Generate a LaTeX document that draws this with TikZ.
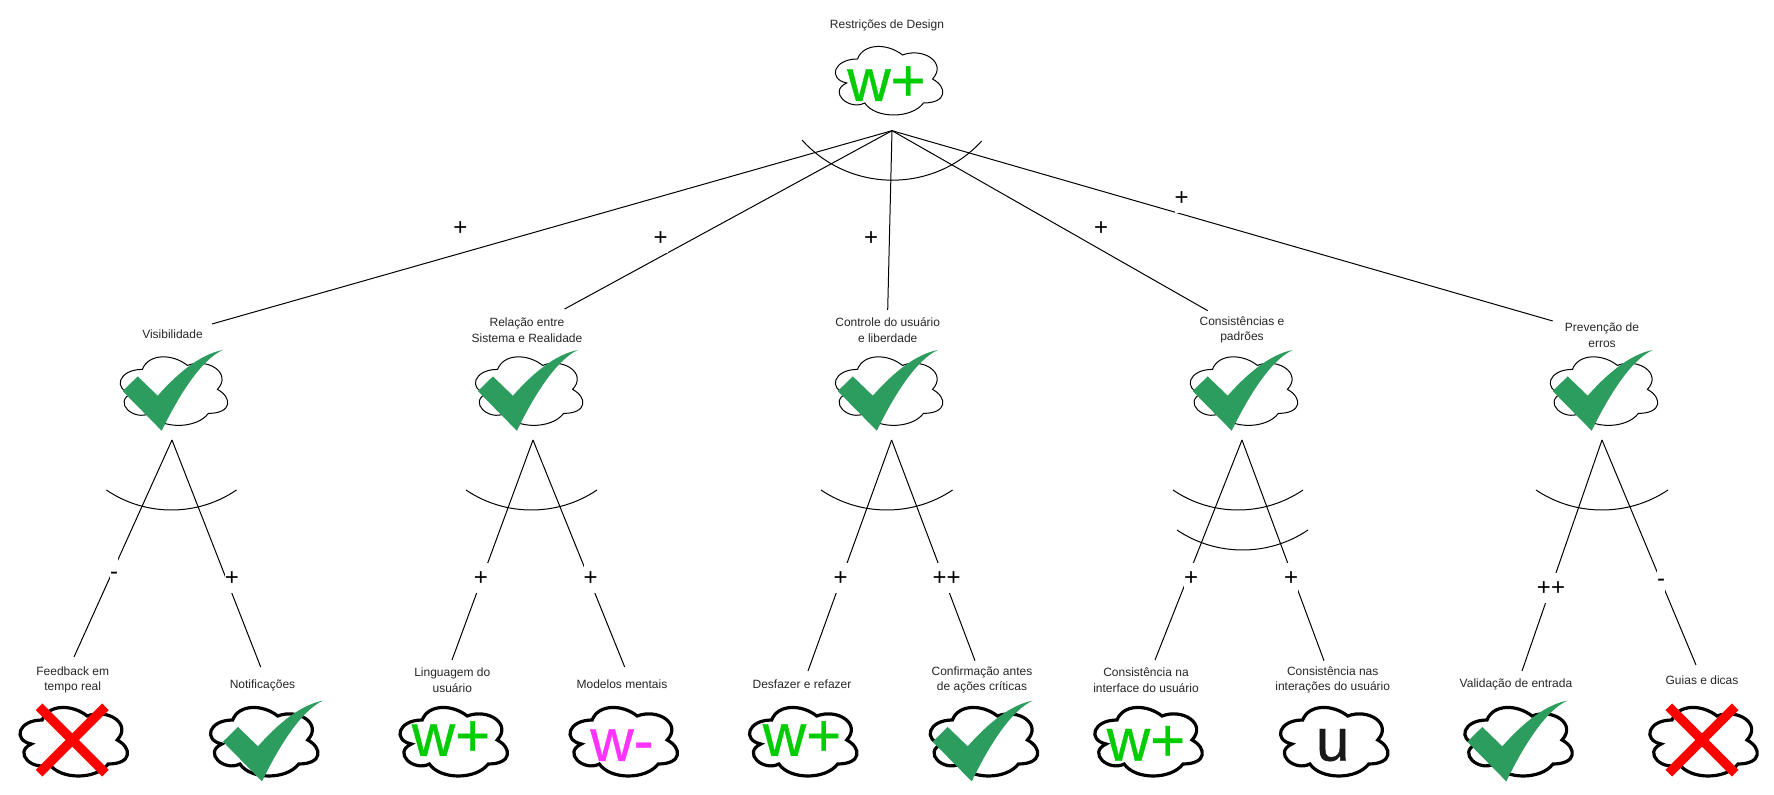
\documentclass[tikz,border=0pt]{standalone}
\usepackage{fontspec}
\setmainfont{Liberation Sans}
\newfontface\bigface[RawFeature={embolden=0.6}]{Liberation Sans}
\definecolor{tickgreen}{HTML}{2D9C5F}
\definecolor{wgreen}{HTML}{00CC00}
\definecolor{wpink}{HTML}{FF33FF}
\tikzset{
  x=0.5pt,y=-0.5pt,
  captext/.style={font=\fontsize{6}{7.75}\selectfont,align=center,text=black!85,inner sep=0pt},
  sign/.style={font=\fontsize{12}{14}\selectfont,fill=white,inner sep=0pt,text height=8pt,text depth=0pt,minimum height=15pt},
  bigw/.style={font=\bigface\fontsize{30}{36}\selectfont,anchor=base,inner sep=0pt},
  conn/.style={draw=black,line width=.5pt},
  thincloud/.pic={\path[draw=black,fill=white,line width=.5pt] (-30,-20) .. controls (-54,-20) and (-60,0) .. (-40.8,4) .. controls (-60,12.8) and (-38.4,32) .. (-22.8,24) .. controls (-12,40) and (24,40) .. (36,24) .. controls (60,24) and (60,8) .. (45,0) .. controls (60,-16) and (36,-32) .. (15,-24) .. controls (0,-36) and (-24,-36) .. (-30,-20) -- cycle;},
  thickcloud/.pic={\path[draw=black,fill=white,line width=1.6pt] (-30,-20) .. controls (-54,-20) and (-60,0) .. (-40.8,4) .. controls (-60,12.8) and (-38.4,32) .. (-22.8,24) .. controls (-12,40) and (24,40) .. (36,24) .. controls (60,24) and (60,8) .. (45,0) .. controls (60,-16) and (36,-32) .. (15,-24) .. controls (0,-36) and (-24,-36) .. (-30,-20) -- cycle;},
  tickmark/.pic={\fill[tickgreen] (-49.7,1.7) -- (-34.7,-13) -- (-14.7,6.3) .. controls (6,-17) and (28,-35) .. (50.3,-39.4) .. controls (28,-29) and (6,7) .. (-10.7,41.4) -- cycle;},
  crossmark/.pic={\draw[red,line width=4.7pt] (-33.2,-33.2) -- (33.2,33.2) (-33.2,33.2) -- (33.2,-33.2);},
}
\newcommand{\sagarc}[4]{\draw[conn] (#1,#3) .. controls ({#1+0.3*(#2-#1)},{#3+4/3*#4}) and ({#2-0.3*(#2-#1)},{#3+4/3*#4}) .. (#2,#3);}
\begin{document}
\begin{tikzpicture}
\useasboundingbox (0,0) rectangle (1774,795);
% cloud positions
\coordinate (top) at (887.5,79);
\coordinate (m1) at (172.4,389.4);
\coordinate (m2) at (527.6,389.4);
\coordinate (m3) at (887.5,389.4);
\coordinate (m4) at (1242.4,389.4);
\coordinate (m5) at (1602.4,389.4);
\coordinate (b1) at (72.2,740);
\coordinate (b2) at (262.7,740);
\coordinate (b3) at (452.2,740);
\coordinate (b4) at (622.2,740);
\coordinate (b5) at (801.7,740);
\coordinate (b6) at (982.4,740);
\coordinate (b7) at (1147,740);
\coordinate (b8) at (1332.7,740);
\coordinate (b9) at (1517,740);
\coordinate (b10) at (1702,740);
% connector ends
\coordinate (apex) at (892,130.7);
\coordinate (e1) at (212,324);
\coordinate (e2) at (564.6,309);
\coordinate (e3) at (887.7,310);
\coordinate (e4) at (1207.7,310.7);
\coordinate (e5) at (1552.7,321);
\coordinate (a1) at (172,440);
\coordinate (a2) at (533,440);
\coordinate (a3) at (891.6,440);
\coordinate (a4) at (1242,440);
\coordinate (a5) at (1602,440);
\coordinate (f1) at (74,657);
\coordinate (f2) at (260.7,667);
\coordinate (f3) at (452,660);
\coordinate (f4) at (624.7,667);
\coordinate (f5) at (808,671);
\coordinate (f6) at (975,660.7);
\coordinate (f7) at (1155,660);
\coordinate (f8) at (1324,660.7);
\coordinate (f9) at (1522,671);
\coordinate (f10) at (1696,665);
% arcs
\draw[conn] (802,140) .. controls (850,193.4) and (934,193.4) .. (981.7,141);
\sagarc{106.4}{236.5}{490}{20}
\sagarc{466}{597}{490}{20}
\sagarc{821}{952.6}{490}{20}
\sagarc{1173}{1303}{490}{20}
\sagarc{1177}{1308}{530}{20}
\sagarc{1536}{1668}{490}{20}
% connectors
\foreach \e in {e1,e2,e3,e4,e5} \draw[conn] (apex) -- (\e);
\draw[conn] (a1) -- (f1); \draw[conn] (a1) -- (f2);
\draw[conn] (a2) -- (f3); \draw[conn] (a2) -- (f4);
\draw[conn] (a3) -- (f5); \draw[conn] (a3) -- (f6);
\draw[conn] (a4) -- (f7); \draw[conn] (a4) -- (f8);
\draw[conn] (a5) -- (f9); \draw[conn] (a5) -- (f10);
% signs
\node[sign] (s1) at (460.5,227.4) {+};
\node[sign] (s2) at (660.7,237.6) {+};
\node[sign] (s3) at (871,237.7) {+};
\node[sign] (s4) at (1101,227.7) {+};
\node[sign] (s5) at (1181.7,198) {+};
\node[sign] (t1) at (114,572) {-};
\node[sign] (t2) at (232,578) {+};
\node[sign] (t3) at (481,578) {+};
\node[sign] (t4) at (590.6,578) {+};
\node[sign] (t5) at (840.7,578) {+};
\node[sign] (t6) at (946.7,578) {++};
\node[sign] (t7) at (1191,578) {+};
\node[sign] (t8) at (1291,578) {+};
\node[sign] (t9) at (1551,588) {++};
\node[sign] (t10) at (1661,579) {-};
% captions
\node[captext] (l0) at (887,25) {Restrições de Design};
\node[captext] (l1) at (172.5,334) {Visibilidade};
\node[captext] (l2) at (527,330) {Relação entre\\Sistema e Realidade};
\node[captext] (l3) at (887.7,330) {Controle do usuário\\e liberdade};
\node[captext] (l4) at (1242,330) {Consistências e\\padrões};
\node[captext] (l5) at (1602,335) {Prevenção de\\erros};
\node[captext] (k1) at (72.7,680) {Feedback em\\tempo real};
\node[captext] (k2) at (262.5,685) {Notificações};
\node[captext] (k3) at (452.3,680) {Linguagem do\\usuário};
\node[captext] (k4) at (622,684.3) {Modelos mentais};
\node[captext] (k5) at (802,684.5) {Desfazer e refazer};
\node[captext] (k6) at (982,680) {Confirmação antes\\de ações críticas};
\node[captext] (k7) at (1146,680) {Consistência na\\interface do usuário};
\node[captext] (k8) at (1332.7,680) {Consistência nas\\interações do usuário};
\node[captext] (k9) at (1516,684.5) {Validação de entrada};
\node[captext] (k10) at (1702,680) {Guias e dicas};
% clouds
\pic at (top) {thincloud};
\foreach \m in {m1,m2,m3,m4,m5} {\pic at (\m) {thincloud}; \pic at (\m) {tickmark};}
\foreach \b in {b1,b2,b3,b4,b5,b6,b7,b8,b9,b10} \pic at (\b) {thickcloud};
\pic at (b1) {crossmark};
\pic at ([xshift=5pt]b2) {tickmark};
\pic at (b6) {tickmark};
\pic at (b9) {tickmark};
\pic at (b10) {crossmark};
\node[bigw,text=wgreen] (w0) at (886.5,101) {w+};
\node[bigw,text=wgreen] (w3) at (451,756) {w+};
\node[bigw,text=wpink] (w4) at (622,761) {w-};
\node[bigw,text=wgreen] (w5) at (802,756) {w+};
\node[bigw,text=wgreen] (w7) at (1146,760.7) {w+};
\node[bigw,text=black!90] (w8) at (1332.7,760.7) {u};
\end{tikzpicture}
\end{document}
